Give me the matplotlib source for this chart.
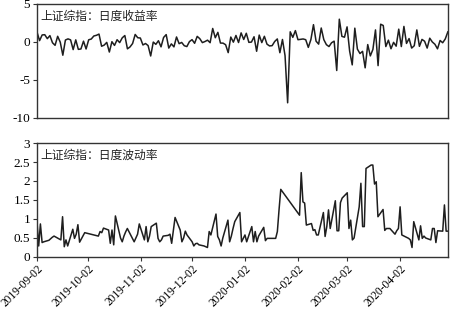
import matplotlib
matplotlib.use("Agg")
import matplotlib.pyplot as plt
import pandas as pd

# trading calendar of the Shanghai market, 2019-09-02 .. 2020-04-30
holidays = ["2019-09-13", "2019-10-01", "2019-10-02", "2019-10-03", "2019-10-04",
            "2019-10-07", "2020-01-01", "2020-01-24", "2020-01-27", "2020-01-28",
            "2020-01-29", "2020-01-30", "2020-01-31", "2020-04-06"]
days = pd.bdate_range("2019-09-02", "2020-04-30")
days = days[~days.isin(pd.to_datetime(holidays))]

# daily return (%), one row per month
ret_sep = [1.31, 0.18, 0.93, 0.96, 0.44, 0.84, -0.10, -0.44, 0.75, -0.02,
           -1.74, 0.26, 0.41, 0.28, -1.00, 0.28, -0.97, -0.92, 0.11, -0.92]
ret_oct = [0.29, 0.39, 0.79, 0.88, 1.04, -0.56, -0.41, -0.05, -1.32, 0.04,
           -0.45, 0.30, -0.08, 0.55, 0.85, -0.90, -0.65, -0.20]
ret_nov = [0.99, 0.56, 0.52, -0.39, -0.20, -0.47, -1.84, -0.01, -0.31, 0.17,
           -0.64, 0.60, 0.97, -0.80, -0.25, -0.64, 0.66, -0.22, -0.06, -0.49, -0.60]
ret_dec = [0.05, 0.31, -0.17, 0.74, 0.44, -0.08, 0.06, 0.24, -0.09, 1.78, 0.56,
           1.27, -0.14, -0.15, -0.36, -1.40, 0.65, -0.02, 0.86, -0.07, 1.20, 0.33]
ret_jan = [1.15, -0.05, -0.01, 0.69, -1.22, 0.91, -0.08, 0.75, -0.28, -0.52,
           -0.48, 0.07, 0.40, -1.41, 0.33, -1.80]
ret_feb = [-8.00, 1.34, 0.61, 1.50, 0.30, 0.35, 0.40, 0.30, -0.71, 0.32,
           2.28, 0.11, -0.28, 1.84, 0.31, -0.35, -0.60, -0.10, 0.11, -3.75]
ret_mar = [3.00, 0.74, 0.63, 1.99, -1.21, -3.01, 1.82, -0.94, -1.52, -1.23, -3.40,
           -0.34, -1.83, -0.98, 1.59, -3.11, 2.34, 2.17, -0.60, 0.24, -0.89, -0.05]
ret_apr = [-0.55, 1.69, -0.60, 2.05, -0.19, 0.45, -0.80, -0.49, 1.59, -0.57, 0.34,
           0.10, -0.80, 0.50, 0.00, -0.30, -0.90, 0.20, -0.10, 0.40, 1.33]

# daily volatility
vol_sep = [0.93, 0.29, 0.87, 0.38, 0.40, 0.44, 0.48, 0.52, 0.55, 0.45,
           1.06, 0.27, 0.45, 0.29, 0.73, 0.49, 0.60, 0.85, 0.39, 0.64]
vol_oct = [0.55, 0.67, 0.64, 0.76, 0.71, 0.36, 0.71, 0.32, 1.08, 0.50,
           0.40, 0.55, 0.66, 0.75, 0.49, 0.40, 0.50, 0.60]
vol_nov = [0.87, 0.45, 0.80, 0.40, 0.55, 0.80, 0.89, 0.49, 0.40, 0.45, 0.55,
           0.57, 0.60, 0.36, 0.70, 1.04, 0.71, 0.40, 0.50, 0.68, 0.58]
vol_dec = [0.40, 0.29, 0.35, 0.36, 0.32, 0.29, 0.27, 0.25, 0.67, 0.58, 1.13,
           0.54, 0.45, 0.29, 0.50, 0.97, 0.40, 0.55, 0.75, 0.93, 1.17, 0.40]
vol_jan = [0.58, 0.40, 0.80, 0.40, 0.67, 0.40, 0.55, 0.78, 0.43, 0.49,
           0.49, 0.49, 0.49, 0.67, 1.25, 1.78]
vol_feb = [1.10, 2.22, 1.45, 1.42, 0.84, 0.88, 0.70, 0.72, 0.58, 0.58,
           1.17, 0.54, 0.80, 1.24, 0.75, 1.48, 0.69, 0.69, 1.43, 1.55]
vol_mar = [1.69, 0.75, 0.97, 0.45, 0.50, 1.32, 1.94, 0.80, 0.80, 2.33, 2.42,
           2.42, 1.92, 1.98, 1.06, 1.25, 0.70, 0.75, 0.75, 0.75, 0.60, 0.69]
vol_apr = [0.75, 1.32, 0.58, 0.49, 0.45, 0.25, 0.93, 0.45, 0.82, 0.49, 0.55,
           0.50, 0.45, 0.75, 0.75, 0.38, 0.69, 0.68, 1.37, 0.68, 0.68]

returns = ret_sep + ret_oct + ret_nov + ret_dec + ret_jan + ret_feb + ret_mar + ret_apr
vols = vol_sep + vol_oct + vol_nov + vol_dec + vol_jan + vol_feb + vol_mar + vol_apr

tick_dates = ["2019-09-02", "2019-10-02", "2019-11-02", "2019-12-02",
              "2020-01-02", "2020-02-02", "2020-03-02", "2020-04-02"]
ret_ticks = [5, 0, -5, -10]
vol_ticks = [0, 0.5, 1, 1.5, 2, 2.5, 3]
title_ret = "上证综指：日度收益率"
title_vol = "上证综指：日度波动率"

serif = "Liberation Serif"
cjk = ["Noto Sans CJK SC", "DejaVu Sans"]
line_color = "#1e1e1e"

fig = plt.figure(figsize=(4.5, 3.1), dpi=100)
ax1 = fig.add_axes([0.0822, 0.6194, 0.913, 0.3677])
ax2 = fig.add_axes([0.0822, 0.171, 0.913, 0.3677])

# top panel is drawn against the trading-day index
ax1.plot(range(len(returns)), returns, color=line_color, lw=1.1)
ax1.set_xlim(0, len(returns) - 1)
ax1.set_ylim(-10, 5)
ax1.set_yticks(ret_ticks)
ax1.set_yticklabels([str(t) for t in ret_ticks], fontfamily=serif, fontsize=9.5)
ax1.set_xticks([])
ax1.text(0.008, 0.95, title_ret, transform=ax1.transAxes, ha="left", va="top",
         fontsize=8.5, family=cjk, color="#222222")

# bottom panel is drawn against calendar dates
ax2.plot(days, vols, color=line_color, lw=1.1)
ax2.set_xlim(days[0], days[-1])
ax2.set_ylim(0, 3)
ax2.set_yticks(vol_ticks)
ax2.set_yticklabels(["0", "0.5", "1", "1.5", "2", "2.5", "3"], fontfamily=serif, fontsize=9.5)
ax2.set_xticks(pd.to_datetime(tick_dates))
ax2.set_xticklabels(tick_dates, rotation=45, ha="right", va="top", rotation_mode="anchor",
                    fontfamily=serif, fontsize=8.3)
ax2.tick_params(axis="x", pad=1)
ax2.text(0.008, 0.95, title_vol, transform=ax2.transAxes, ha="left", va="top",
         fontsize=8.5, family=cjk, color="#222222")

for ax in (ax1, ax2):
    for sp in ax.spines.values():
        sp.set_color("#333333")
        sp.set_linewidth(1.0)
    ax.tick_params(length=3, width=0.8, color="#333333")
ax1.tick_params(axis="y", pad=2)
ax2.tick_params(axis="y", pad=2)

fig.savefig("out.png", dpi=100)
